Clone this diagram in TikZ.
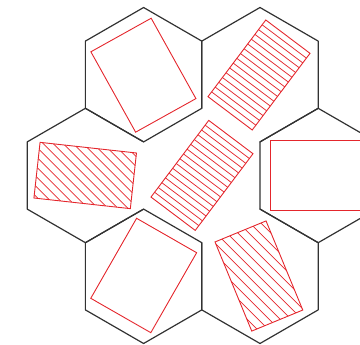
\documentclass[tikz,border=0pt]{standalone}
\begin{document}
\definecolor{hexgray}{RGB}{50,50,50}
\definecolor{boxred}{RGB}{228,38,44}
\begin{tikzpicture}[x=1pt,y=-1pt,
  hexline/.style={draw=hexgray,line width=1.2pt,line join=round,line cap=round},
  redbox/.style={draw=boxred,line width=0.9pt,line join=miter},
  hatchline/.style={draw=boxred,line width=0.75pt}]
\useasboundingbox (0,0) rectangle (360,345);
\clip (0,0) rectangle (360,345);
% hexagon centres
\coordinate (TL) at (143.6,74.7);
\coordinate (TR) at (260.0,74.7);
\coordinate (ML) at (85.4,175.5);
\coordinate (MR) at (318.2,175.5);
\coordinate (BL) at (143.6,276.3);
\coordinate (BR) at (260.0,276.3);
% hexagons
\begin{scope}[shift={(TL)}]
  \draw[hexline] (0,-67.2) -- (58.2,-33.6) -- (58.2,33.6) -- (0,67.2) -- (-58.2,33.6) -- (-58.2,-33.6) -- cycle;
\end{scope}
\begin{scope}[shift={(BL)}]
  \draw[hexline] (0,-67.2) -- (58.2,-33.6) -- (58.2,33.6) -- (0,67.2) -- (-58.2,33.6) -- (-58.2,-33.6) -- cycle;
\end{scope}
\begin{scope}[shift={(MR)}]
  \draw[hexline] (0,-67.2) -- (58.2,-33.6) -- (58.2,33.6) -- (0,67.2) -- (-58.2,33.6) -- (-58.2,-33.6) -- cycle;
\end{scope}
\begin{scope}[shift={(TR)}]
  \draw[hexline] (-58.2,33.6) -- (-58.2,-33.6) -- (0,-67.2) -- (58.2,-33.6) -- (58.2,33.6) -- (0,67.2);
\end{scope}
\begin{scope}[shift={(BR)}]
  \draw[hexline] (0,-67.2) -- (58.2,-33.6) -- (58.2,33.6) -- (0,67.2) -- (-58.2,33.6) -- (-58.2,-33.6);
\end{scope}
\begin{scope}[shift={(ML)}]
  \draw[hexline] (58.2,33.6) -- (0,67.2) -- (-58.2,33.6) -- (-58.2,-33.6) -- (0,-67.2) -- (58.2,-33.6);
\end{scope}
% plain rectangles
\begin{scope}[shift={(143.4,75.2)},rotate=29.1]
  \draw[redbox] (-34.5,-46) rectangle (34.5,46);
\end{scope}
\begin{scope}[shift={(143.7,275.5)},rotate=-29.8]
  \draw[redbox] (-34.6,-46.1) rectangle (34.6,46.1);
\end{scope}
\begin{scope}[shift={(317.5,175.5)}]
  \draw[redbox] (-46.8,-35.3) rectangle (46.8,35.3);
\end{scope}
% hatched rectangles, lines parallel to the short side
\begin{scope}[shift={(259,75)},rotate=-37]
  \foreach \k in {1,...,15} \draw[hatchline] (-27.7,-48+6*\k) -- (27.7,-48+6*\k);
  \draw[redbox] (-27.7,-48) rectangle (27.7,48);
\end{scope}
\begin{scope}[shift={(202,175.4)},rotate=-37]
  \foreach \k in {1,...,15} \draw[hatchline] (-27.7,-48+6*\k) -- (27.7,-48+6*\k);
  \draw[redbox] (-27.7,-48) rectangle (27.7,48);
\end{scope}
% hatched rectangles, diagonal lines
\begin{scope}[shift={(85.2,175.5)},rotate=-6.3]
  \begin{scope}
    \clip (-48.5,-28) rectangle (48.5,28);
    \begin{scope}[rotate=6.3]
      \foreach \c in {-120,-110,...,120} \draw[hatchline] (-80,-80+\c) -- (80,80+\c);
    \end{scope}
  \end{scope}
  \draw[redbox] (-48.5,-28) rectangle (48.5,28);
\end{scope}
\begin{scope}[shift={(258.9,276)},rotate=22.4]
  \begin{scope}
    \clip (-27.6,-48.2) rectangle (27.6,48.2);
    \begin{scope}[rotate=-22.4]
      \foreach \c in {-121,-110,...,121} \draw[hatchline] (-80,-80+\c) -- (80,80+\c);
    \end{scope}
  \end{scope}
  \draw[redbox] (-27.6,-48.2) rectangle (27.6,48.2);
\end{scope}
\end{tikzpicture}
\end{document}
